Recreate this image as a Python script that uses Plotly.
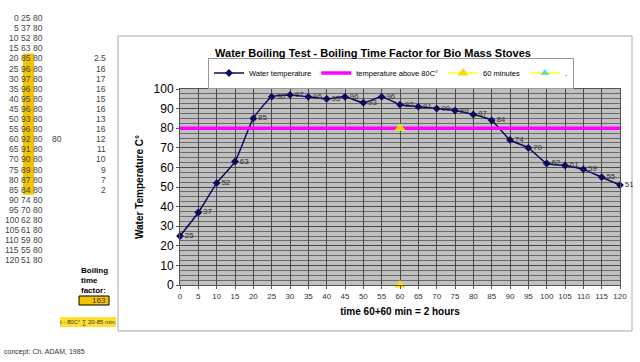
import plotly.graph_objects as go

# ---------------- data ----------------
time_min = [0, 5, 10, 15, 20, 25, 30, 35, 40, 45, 50, 55, 60, 65, 70, 75, 80, 85, 90, 95, 100, 105, 110, 115, 120]
water_temp = [25, 37, 52, 63, 85, 96, 97, 96, 95, 96, 93, 96, 92, 91, 90, 89, 87, 84, 74, 70, 62, 61, 59, 55, 51]
threshold = 80
threshold_x = [0, 120]
marker_60_x = [60, None, 60]
marker_60_y = [80, None, 0]
factor_col = [2.5, 16, 17, 16, 15, 16, 13, 16, 12, 11, 10, 9, 7, 2]  # rows 20..85 min
boiling_time_factor = 163
x_ticks = list(range(0, 121, 5))
y_ticks = list(range(0, 101, 10))

FONT = "Liberation Sans, Arial, sans-serif"

# plot area in pixels
L, R, T, B = 180, 620, 89, 285
W, H = 640, 362


def px(x):
    return (x - L) / (R - L)


def py(y):
    return (B - y) / (B - T)


fig = go.Figure()

fig.add_trace(go.Scatter(
    x=time_min, y=water_temp, mode="lines+markers+text", name="Water temperature",
    line=dict(color="#0a0a5a", width=1.5, shape="spline", smoothing=0.5),
    marker=dict(symbol="diamond", size=6, color="#0a0a5a"),
    text=[str(v) for v in water_temp], textposition="middle right",
    textfont=dict(family=FONT, size=8, color="#333333"), cliponaxis=False,
))
fig.add_trace(go.Scatter(
    x=threshold_x, y=[threshold, threshold], mode="lines", name="temperature above 80C°",
    line=dict(color="#ff00ff", width=3.5),
))
fig.add_trace(go.Scatter(
    x=marker_60_x, y=marker_60_y, mode="lines+markers", name="60 minutes",
    line=dict(color="#ffff66", width=2), connectgaps=False,
    marker=dict(symbol="triangle-up", size=10, color="#ffdd00"), cliponaxis=False,
))
fig.add_trace(go.Scatter(
    x=[None], y=[None], mode="lines+markers", name=".",
    line=dict(color="#ffff66", width=2),
    marker=dict(symbol="triangle-up", size=8, color="#66ddcc"),
))

fig.update_layout(
    width=W, height=H,
    margin=dict(l=L, r=W - R, t=T, b=H - B),
    paper_bgcolor="white", plot_bgcolor="#c0c0c0",
    font=dict(family=FONT, color="#000000"),
    title=dict(text="<b>Water Boiling Test - Boiling Time Factor for Bio Mass Stoves</b>",
               x=(373) / W, y=1 - 53 / H, xanchor="center", yanchor="middle",
               font=dict(size=11, family=FONT)),
    showlegend=True,
    legend=dict(orientation="h", x=px(391), y=py(73), xanchor="center", yanchor="middle",
                bordercolor="#999999", borderwidth=1, bgcolor="white",
                font=dict(size=7.5, family=FONT), itemwidth=30, tracegroupgap=0),
    xaxis=dict(range=[0, 120], tickvals=x_ticks, showgrid=True, gridcolor="#4a4a4a", gridwidth=1,
               zeroline=False, showline=True, linecolor="#555555", mirror=True,
               ticks="outside", ticklen=3, tickcolor="#555555",
               tickfont=dict(size=8, color="#333333"),
               title=dict(text="<b>time 60+60 min = 2 hours</b>", font=dict(size=10), standoff=8)),
    yaxis=dict(range=[0, 100], tickvals=y_ticks, showgrid=True, gridcolor="#4a4a4a", gridwidth=1,
               minor=dict(dtick=2.5, showgrid=True, gridcolor="#6a6a6a", gridwidth=0.6),
               zeroline=False, showline=True, linecolor="#555555", mirror=True,
               ticks="outside", ticklen=3, tickcolor="#555555",
               tickfont=dict(size=12, color="#000000"),
               title=dict(text="<b>Water Temperature C°</b>", font=dict(size=10), standoff=8)),
)

shapes = []
# outer chart frame
shapes.append(dict(type="rect", xref="paper", yref="paper", x0=px(118), x1=px(632), y0=py(331), y1=py(36),
                   line=dict(color="#aaaaaa", width=1), fillcolor="rgba(0,0,0,0)", layer="below"))
# yellow highlight for rows 20..85
row_y0 = 18
row_dy = 10.1
start_i = time_min.index(20)
end_i = time_min.index(85)
shapes.append(dict(type="rect", xref="paper", yref="paper", x0=px(23), x1=px(34),
                   y0=py(row_y0 + end_i * row_dy + 5), y1=py(row_y0 + start_i * row_dy - 5),
                   line=dict(width=0), fillcolor="#f5c400", layer="below"))
# boiling factor box
shapes.append(dict(type="rect", xref="paper", yref="paper", x0=px(79), x1=px(109), y0=py(305), y1=py(296),
                   line=dict(color="#000000", width=1), fillcolor="#f5c400", layer="below"))
# yellow note bg
shapes.append(dict(type="rect", xref="paper", yref="paper", x0=px(60), x1=px(116), y0=py(327), y1=py(317),
                   line=dict(width=0), fillcolor="#ffe030", layer="below"))
fig.update_layout(shapes=shapes)

ann = []
tf = dict(family=FONT, size=8.5, color="#444444")
for i, (t, v) in enumerate(zip(time_min, water_temp)):
    yy = py(row_y0 + i * row_dy)
    ann.append(dict(text=str(t), x=px(21), y=yy, xref="paper", yref="paper", xanchor="right",
                    yanchor="middle", showarrow=False, font=tf))
    ann.append(dict(text=str(v), x=px(33), y=yy, xref="paper", yref="paper", xanchor="right",
                    yanchor="middle", showarrow=False, font=tf))
    ann.append(dict(text=str(threshold), x=px(45), y=yy, xref="paper", yref="paper", xanchor="right",
                    yanchor="middle", showarrow=False, font=tf))
    if t == 60:
        ann.append(dict(text=str(threshold), x=px(64), y=yy, xref="paper", yref="paper", xanchor="right",
                        yanchor="middle", showarrow=False, font=tf))
for k, f in enumerate(factor_col):
    yy = py(row_y0 + (start_i + k) * row_dy)
    ann.append(dict(text=str(f), x=px(108), y=yy, xref="paper", yref="paper", xanchor="right",
                    yanchor="middle", showarrow=False, font=tf))
for txt, yv in [("Boiling", 270), ("time", 280), ("factor:", 290)]:
    ann.append(dict(text=f"<b>{txt}</b>", x=px(79), y=py(yv), xref="paper", yref="paper", xanchor="left",
                    yanchor="middle", showarrow=False, font=dict(family=FONT, size=8, color="#000")))
ann.append(dict(text=str(boiling_time_factor), x=px(108), y=py(300.5), xref="paper", yref="paper",
                xanchor="right", yanchor="middle", showarrow=False, font=dict(family=FONT, size=8, color="#333")))
ann.append(dict(text="t - 80C° ∑ 20-85 min.", x=px(88), y=py(322), xref="paper", yref="paper",
                xanchor="center", yanchor="middle", showarrow=False, font=dict(family=FONT, size=6, color="#333")))
ann.append(dict(text="concept: Ch. ADAM, 1985", x=px(2), y=py(352), xref="paper", yref="paper",
                xanchor="left", yanchor="middle", showarrow=False, font=dict(family=FONT, size=7, color="#333")))
fig.update_layout(annotations=ann)

fig.write_html("out.html")
